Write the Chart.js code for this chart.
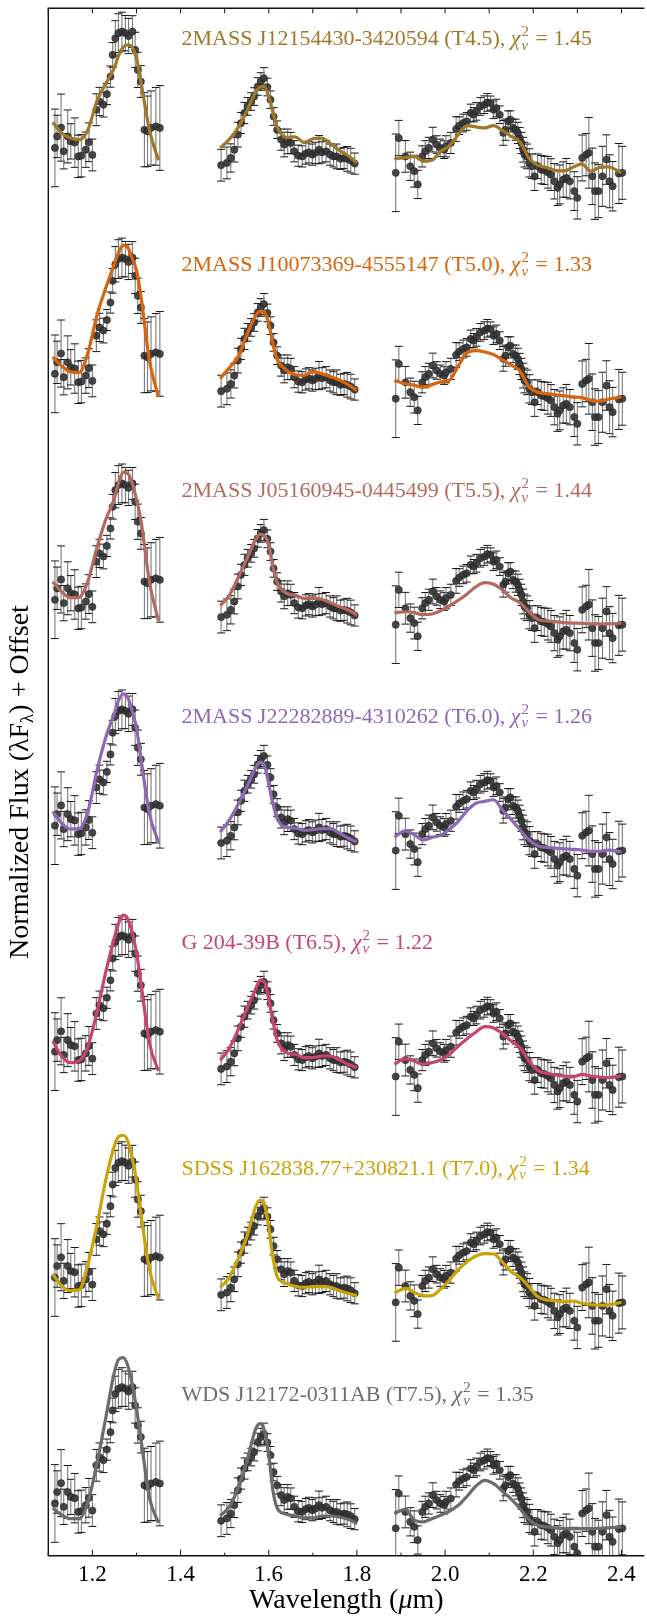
<!DOCTYPE html>
<html>
<head>
<meta charset="utf-8">
<title>Spectral standards comparison</title>
<script src="https://cdn.jsdelivr.net/npm/chart.js@4.4.1/dist/chart.umd.min.js"></script>
<style>
  html, body { margin: 0; padding: 0; background: #fff; }
  #wrap { width: 647px; height: 1621px; }
</style>
</head>
<body>
<div id="wrap"><canvas id="specChart" width="647" height="1621"></canvas></div>
<script>
// observed spectrum, same in every panel (only shifted by the offset)
const wlJ = [1.115, 1.120, 1.129, 1.135, 1.144, 1.151, 1.160, 1.168, 1.175, 1.185, 1.192, 1.200, 1.209, 1.216, 1.225, 1.233,
             1.241, 1.246, 1.252, 1.259, 1.267, 1.275, 1.282, 1.291, 1.297, 1.303, 1.310, 1.318, 1.325, 1.333, 1.344, 1.353];
const fluxJ = [0.343, 0.408, 0.458, 0.324, 0.408, 0.380, 0.373, 0.295, 0.299, 0.333, 0.375, 0.303, 0.559, 0.606, 0.588, 0.648,
               0.747, 0.870, 0.964, 0.993, 1.002, 0.993, 0.977, 1.002, 0.898, 0.785, 0.719, 0.446, 0.437, 0.456, 0.465, 0.456];
const errJ = [0.22, 0.12, 0.19, 0.10, 0.15, 0.10, 0.14, 0.12, 0.12, 0.10, 0.11, 0.09, 0.09, 0.08, 0.07, 0.06,
              0.06, 0.07, 0.10, 0.11, 0.11, 0.10, 0.10, 0.09, 0.10, 0.10, 0.09, 0.21, 0.20, 0.21, 0.22, 0.24];

const wlH = [1.492, 1.505, 1.514, 1.522, 1.530, 1.537, 1.545, 1.552, 1.560, 1.567, 1.575, 1.582, 1.589, 1.597, 1.604, 1.611,
             1.619, 1.628, 1.635, 1.643, 1.650, 1.658, 1.667, 1.676, 1.684, 1.691, 1.699, 1.706, 1.714, 1.721, 1.730, 1.739,
             1.747, 1.754, 1.763, 1.771, 1.778, 1.786, 1.795];
const fluxH = [0.245, 0.258, 0.286, 0.333, 0.418, 0.484, 0.541, 0.578, 0.606, 0.634, 0.691, 0.719, 0.738, 0.688, 0.616, 0.521,
               0.446, 0.390, 0.362, 0.380, 0.371, 0.324, 0.299, 0.295, 0.311, 0.318, 0.305, 0.315, 0.333, 0.318, 0.324, 0.305,
               0.295, 0.295, 0.281, 0.286, 0.281, 0.271, 0.254];
const errH = [0.09, 0.09, 0.08, 0.07, 0.07, 0.06, 0.06, 0.05, 0.05, 0.05, 0.05, 0.05, 0.06, 0.05, 0.05, 0.05,
              0.05, 0.06, 0.07, 0.07, 0.06, 0.06, 0.06, 0.06, 0.06, 0.06, 0.06, 0.06, 0.08, 0.06, 0.06, 0.06,
              0.06, 0.07, 0.06, 0.06, 0.07, 0.07, 0.06];

const wlK = [1.888, 1.895, 1.910, 1.921, 1.930, 1.938, 1.948, 1.955, 1.963, 1.972, 1.981, 1.989, 1.998, 2.002, 2.013, 2.025,
             2.032, 2.041, 2.049, 2.058, 2.065, 2.071, 2.080, 2.089, 2.096, 2.103, 2.110, 2.116, 2.124, 2.132, 2.137, 2.143,
             2.148, 2.154, 2.160, 2.165, 2.169, 2.173, 2.177, 2.180, 2.186, 2.191, 2.197, 2.203, 2.210, 2.218, 2.225, 2.233,
             2.240, 2.248, 2.255, 2.260, 2.268, 2.275, 2.283, 2.293, 2.300, 2.311, 2.320, 2.326, 2.334, 2.340, 2.348, 2.357,
             2.366, 2.373, 2.380, 2.394, 2.402];
const fluxK = [0.202, 0.399, 0.295, 0.239, 0.211, 0.136, 0.295, 0.324, 0.343, 0.390, 0.362, 0.343, 0.333, 0.352, 0.371, 0.450,
               0.469, 0.484, 0.493, 0.541, 0.531, 0.550, 0.578, 0.588, 0.601, 0.597, 0.559, 0.569, 0.531, 0.428, 0.446, 0.493,
               0.503, 0.456, 0.446, 0.428, 0.399, 0.371, 0.333, 0.305, 0.295, 0.258, 0.239, 0.182, 0.239, 0.220, 0.216, 0.205,
               0.192, 0.154, 0.117, 0.136, 0.164, 0.173, 0.154, 0.098, 0.060, 0.286, 0.305, 0.315, 0.182, 0.098, 0.098, 0.182,
               0.277, 0.154, 0.126, 0.198, 0.202];
const errK = [0.22, 0.10, 0.09, 0.08, 0.09, 0.08, 0.06, 0.06, 0.06, 0.07, 0.05, 0.05, 0.05, 0.06, 0.06, 0.07,
              0.05, 0.05, 0.05, 0.05, 0.04, 0.05, 0.05, 0.05, 0.05, 0.04, 0.05, 0.05, 0.05, 0.07, 0.06, 0.06,
              0.05, 0.05, 0.06, 0.06, 0.06, 0.06, 0.07, 0.07, 0.07, 0.08, 0.07, 0.08, 0.07, 0.08, 0.08, 0.09,
              0.09, 0.10, 0.10, 0.11, 0.10, 0.11, 0.10, 0.11, 0.12, 0.13, 0.12, 0.20, 0.16, 0.16, 0.15, 0.17,
              0.14, 0.15, 0.14, 0.17, 0.15];

// standard (template) spectra, one row per panel, top to bottom
const modelWlJ = [1.11, 1.13, 1.15, 1.17, 1.19, 1.21, 1.23, 1.25, 1.26, 1.27, 1.28, 1.29, 1.30, 1.31, 1.33, 1.35];
const modelWlH = [1.49, 1.51, 1.53, 1.55, 1.57, 1.58, 1.59, 1.60, 1.61, 1.62, 1.64, 1.66, 1.68, 1.70, 1.72, 1.74, 1.76, 1.78, 1.80];
const modelWlK = [1.885, 1.91, 1.93, 1.95, 1.97, 1.99, 2.01, 2.03, 2.05, 2.07, 2.09, 2.11, 2.13, 2.15, 2.17, 2.19, 2.21, 2.23,
                  2.25, 2.27, 2.29, 2.31, 2.33, 2.35, 2.37, 2.40];

const modelJ = [
  [0.488, 0.428, 0.399, 0.390, 0.446, 0.606, 0.706, 0.798, 0.870, 0.914, 0.927, 0.914, 0.851, 0.719, 0.437, 0.273],
  [0.439, 0.388, 0.354, 0.350, 0.463, 0.671, 0.826, 0.967, 1.033, 1.071, 1.060, 0.999, 0.930, 0.785, 0.410, 0.212],
  [0.445, 0.389, 0.355, 0.357, 0.451, 0.635, 0.795, 0.918, 1.012, 1.065, 1.059, 1.006, 0.912, 0.795, 0.436, 0.223],
  [0.424, 0.358, 0.324, 0.326, 0.424, 0.651, 0.840, 0.981, 1.057, 1.089, 1.070, 0.994, 0.896, 0.726, 0.405, 0.250],
  [0.403, 0.318, 0.280, 0.290, 0.375, 0.564, 0.790, 0.989, 1.074, 1.116, 1.096, 1.021, 0.904, 0.734, 0.385, 0.233],
  [0.363, 0.297, 0.269, 0.273, 0.420, 0.637, 0.892, 1.090, 1.143, 1.149, 1.118, 1.024, 0.892, 0.703, 0.382, 0.222],
  [0.317, 0.279, 0.257, 0.257, 0.351, 0.568, 0.823, 1.088, 1.160, 1.169, 1.126, 1.022, 0.880, 0.710, 0.370, 0.232]
];
const modelH = [
  [0.343, 0.390, 0.456, 0.550, 0.657, 0.688, 0.691, 0.634, 0.541, 0.456, 0.403, 0.405, 0.375, 0.395, 0.399, 0.367, 0.329, 0.299, 0.258],
  [0.316, 0.376, 0.439, 0.561, 0.671, 0.697, 0.693, 0.627, 0.505, 0.420, 0.365, 0.338, 0.335, 0.354, 0.344, 0.327, 0.308, 0.282, 0.250],
  [0.309, 0.366, 0.465, 0.574, 0.682, 0.714, 0.706, 0.653, 0.521, 0.436, 0.380, 0.370, 0.351, 0.351, 0.346, 0.326, 0.304, 0.285, 0.258],
  [0.307, 0.373, 0.462, 0.560, 0.670, 0.702, 0.685, 0.579, 0.462, 0.377, 0.334, 0.330, 0.317, 0.320, 0.326, 0.326, 0.301, 0.273, 0.250],
  [0.294, 0.360, 0.464, 0.583, 0.696, 0.747, 0.738, 0.640, 0.507, 0.403, 0.337, 0.328, 0.309, 0.309, 0.318, 0.318, 0.296, 0.271, 0.252],
  [0.288, 0.341, 0.444, 0.571, 0.741, 0.782, 0.760, 0.628, 0.448, 0.344, 0.310, 0.293, 0.288, 0.291, 0.291, 0.288, 0.269, 0.254, 0.240],
  [0.272, 0.323, 0.427, 0.578, 0.763, 0.795, 0.757, 0.616, 0.408, 0.313, 0.282, 0.272, 0.261, 0.261, 0.272, 0.272, 0.266, 0.253, 0.228]
];
const modelK = [
  [0.281, 0.288, 0.295, 0.269, 0.273, 0.324, 0.356, 0.418, 0.469, 0.462, 0.456, 0.469, 0.442, 0.408, 0.377, 0.286, 0.245, 0.232, 0.216, 0.213, 0.233, 0.253, 0.211, 0.232, 0.236, 0.202],
  [0.307, 0.287, 0.278, 0.267, 0.282, 0.297, 0.307, 0.388, 0.463, 0.474, 0.467, 0.452, 0.422, 0.392, 0.358, 0.269, 0.239, 0.231, 0.225, 0.219, 0.212, 0.208, 0.193, 0.188, 0.199, 0.212],
  [0.270, 0.275, 0.270, 0.258, 0.262, 0.281, 0.309, 0.340, 0.376, 0.417, 0.440, 0.431, 0.398, 0.353, 0.326, 0.275, 0.232, 0.223, 0.219, 0.213, 0.211, 0.210, 0.206, 0.206, 0.206, 0.210],
  [0.279, 0.314, 0.292, 0.263, 0.277, 0.288, 0.324, 0.368, 0.428, 0.470, 0.481, 0.490, 0.433, 0.377, 0.320, 0.263, 0.229, 0.220, 0.216, 0.212, 0.209, 0.205, 0.198, 0.198, 0.205, 0.194],
  [0.271, 0.303, 0.290, 0.271, 0.280, 0.296, 0.328, 0.375, 0.416, 0.454, 0.484, 0.477, 0.445, 0.403, 0.365, 0.290, 0.237, 0.220, 0.211, 0.205, 0.199, 0.214, 0.205, 0.199, 0.195, 0.205],
  [0.254, 0.282, 0.259, 0.239, 0.240, 0.278, 0.329, 0.388, 0.433, 0.465, 0.478, 0.477, 0.430, 0.376, 0.344, 0.291, 0.235, 0.216, 0.212, 0.205, 0.210, 0.197, 0.189, 0.186, 0.188, 0.203],
  [0.285, 0.310, 0.248, 0.238, 0.257, 0.276, 0.300, 0.333, 0.384, 0.442, 0.474, 0.455, 0.412, 0.367, 0.313, 0.253, 0.219, 0.210, 0.204, 0.200, 0.200, 0.200, 0.200, 0.202, 0.205, 0.210]
];

const names = ['2MASS J12154430-3420594', '2MASS J10073369-4555147', '2MASS J05160945-0445499',
               '2MASS J22282889-4310262', 'G 204-39B', 'SDSS J162838.77+230821.1', 'WDS J12172-0311AB'];
const spTypes = ['T4.5', 'T5.0', 'T5.5', 'T6.0', 'T6.5', 'T7.0', 'T7.5'];
const chi2 = ['1.45', '1.33', '1.44', '1.26', '1.22', '1.34', '1.35'];
const offsets = [7.68, 6.40, 5.12, 3.84, 2.56, 1.28, 0.00];
const colors = ['#a07828', '#d8640c', '#b36a5d', '#8e68b3', '#c9446e', '#cca307', '#6c6c6c'];

const majorTicks = [1.2, 1.4, 1.6, 1.8, 2.0, 2.2, 2.4];
const minorTicks = [1.1, 1.3, 1.5, 1.7, 1.9, 2.1, 2.3];

const SERIF = '"Liberation Serif", "DejaVu Serif", serif';

function toPoints(wl, vals, off) {
    return wl.map((w, i) => ({ x: w, y: vals[i] + off }));
}

// build datasets: three model pieces + the observed points for every panel
const datasets = [];
offsets.forEach((off, k) => {
    [[modelWlJ, modelJ[k]], [modelWlH, modelH[k]], [modelWlK, modelK[k]]].forEach(([w, v]) => {
        datasets.push({
            data: toPoints(w, v, off),
            showLine: true,
            borderColor: colors[k],
            borderWidth: 3.2,
            pointRadius: 0,
            cubicInterpolationMode: 'monotone',
            fill: false,
            order: 0
        });
    });
    datasets.push({
        data: [...toPoints(wlJ, fluxJ, off), ...toPoints(wlH, fluxH, off), ...toPoints(wlK, fluxK, off)],
        showLine: false,
        pointRadius: 3.6,
        pointBackgroundColor: 'rgba(52,52,52,0.9)',
        pointBorderColor: 'rgba(25,25,25,0.85)',
        pointBorderWidth: 0.6,
        order: 1
    });
});

function line(ctx, x1, y1, x2, y2) {
    ctx.beginPath();
    ctx.moveTo(x1, y1);
    ctx.lineTo(x2, y2);
    ctx.stroke();
}

// error bars under the points
const errorBars = {
    id: 'errorBars',
    beforeDatasetsDraw(chart) {
        const { ctx, chartArea: a, scales: { x, y } } = chart;
        ctx.save();
        ctx.beginPath();
        ctx.rect(a.left, a.top, a.right - a.left, a.bottom - a.top);
        ctx.clip();
        offsets.forEach((off) => {
            [[wlJ, fluxJ, errJ], [wlH, fluxH, errH], [wlK, fluxK, errK]].forEach(([w, f, e]) => {
                w.forEach((wl, i) => {
                    const px = x.getPixelForValue(wl);
                    const lo = y.getPixelForValue(f[i] + off - e[i]);
                    const hi = y.getPixelForValue(f[i] + off + e[i]);
                    ctx.strokeStyle = '#7a7a7a';
                    ctx.lineWidth = 1.1;
                    line(ctx, px, lo, px, hi);
                    ctx.strokeStyle = '#151515';
                    ctx.lineWidth = 1;
                    line(ctx, px - 4, lo, px + 4, lo);
                    line(ctx, px - 4, hi, px + 4, hi);
                });
            });
        });
        ctx.restore();
    }
};

// frame, inward ticks, tick labels, axis titles and panel labels
const frameAndText = {
    id: 'frameAndText',
    afterDraw(chart) {
        const { ctx, chartArea: a, scales: { x, y } } = chart;
        ctx.save();
        ctx.strokeStyle = '#111';
        ctx.lineWidth = 1.4;
        ctx.beginPath();
        ctx.moveTo(a.right + 2, a.top);
        ctx.lineTo(a.left, a.top);
        ctx.lineTo(a.left, a.bottom);
        ctx.lineTo(a.right + 2, a.bottom);
        ctx.stroke();

        ctx.lineWidth = 1;
        majorTicks.forEach((v) => {
            const px = x.getPixelForValue(v);
            line(ctx, px, a.bottom, px, a.bottom - 6);
            line(ctx, px, a.top, px, a.top + 5);
        });
        minorTicks.forEach((v) => {
            const px = x.getPixelForValue(v);
            line(ctx, px, a.bottom, px, a.bottom - 3);
            line(ctx, px, a.top, px, a.top + 5);
        });

        ctx.fillStyle = '#000';
        ctx.textAlign = 'center';
        ctx.textBaseline = 'alphabetic';
        ctx.font = '23px ' + SERIF;
        majorTicks.forEach((v) => {
            ctx.fillText(v.toFixed(1), x.getPixelForValue(v), a.bottom + 25);
        });

        // x title with italic mu
        ctx.textAlign = 'left';
        ctx.font = '28px ' + SERIF;
        const p1 = 'Wavelength (', p3 = 'm)';
        const w1 = ctx.measureText(p1).width, w3 = ctx.measureText(p3).width;
        ctx.font = 'italic 28px ' + SERIF;
        const w2 = ctx.measureText('\u03bc').width;
        let tx = (a.left + a.right + 2) / 2 - (w1 + w2 + w3) / 2;
        const ty = a.bottom + 52;
        ctx.font = '28px ' + SERIF;
        ctx.fillText(p1, tx, ty);
        ctx.font = 'italic 28px ' + SERIF;
        ctx.fillText('\u03bc', tx + w1, ty);
        ctx.font = '28px ' + SERIF;
        ctx.fillText(p3, tx + w1 + w2, ty);

        // y title, rotated, with subscript lambda
        ctx.save();
        ctx.translate(28, (a.top + a.bottom) / 2);
        ctx.rotate(-Math.PI / 2);
        ctx.font = '28px ' + SERIF;
        const q1 = 'Normalized Flux (\u03bbF', q3 = ') + Offset';
        const v1 = ctx.measureText(q1).width, v3 = ctx.measureText(q3).width;
        ctx.font = '19px ' + SERIF;
        const v2 = ctx.measureText('\u03bb').width;
        let sx = -(v1 + v2 + v3) / 2;
        ctx.font = '28px ' + SERIF;
        ctx.fillText(q1, sx, 0);
        ctx.font = '19px ' + SERIF;
        ctx.fillText('\u03bb', sx + v1, 5);
        ctx.font = '28px ' + SERIF;
        ctx.fillText(q3, sx + v1 + v2, 0);
        ctx.restore();

        // panel labels
        offsets.forEach((off, k) => {
            let lx = x.getPixelForValue(1.402);
            const ly = y.getPixelForValue(off + 0.925);
            ctx.fillStyle = colors[k];
            ctx.font = '22px ' + SERIF;
            const head = names[k] + ' (' + spTypes[k] + '), ';
            ctx.fillText(head, lx, ly);
            lx += ctx.measureText(head).width;
            ctx.font = 'italic 22px ' + SERIF;
            ctx.fillText('\u03c7', lx, ly);
            lx += ctx.measureText('\u03c7').width + 1;
            ctx.font = '15px ' + SERIF;
            ctx.fillText('2', lx, ly - 9);
            const wSup = ctx.measureText('2').width;
            ctx.font = 'italic 15px ' + SERIF;
            ctx.fillText('\u03bd', lx, ly + 4.5);
            const wSub = ctx.measureText('\u03bd').width;
            lx += Math.max(wSup, wSub) + 1;
            ctx.font = '22px ' + SERIF;
            ctx.fillText(' = ' + chi2[k], lx, ly);
        });
        ctx.restore();
    }
};

const config = {
    type: 'scatter',
    data: { datasets: datasets },
    options: {
        responsive: false,
        animation: false,
        events: [],
        layout: { padding: { left: 48.3, right: 0, top: 8.3, bottom: 65.3 } },
        scales: {
            x: { type: 'linear', min: 1.1, max: 2.4475, display: false },
            y: { type: 'linear', min: 0.047, max: 8.814, display: false }
        },
        plugins: {
            legend: { display: false },
            tooltip: { enabled: false }
        }
    },
    plugins: [errorBars, frameAndText]
};

new Chart(document.getElementById('specChart'), config);
</script>
</body>
</html>
